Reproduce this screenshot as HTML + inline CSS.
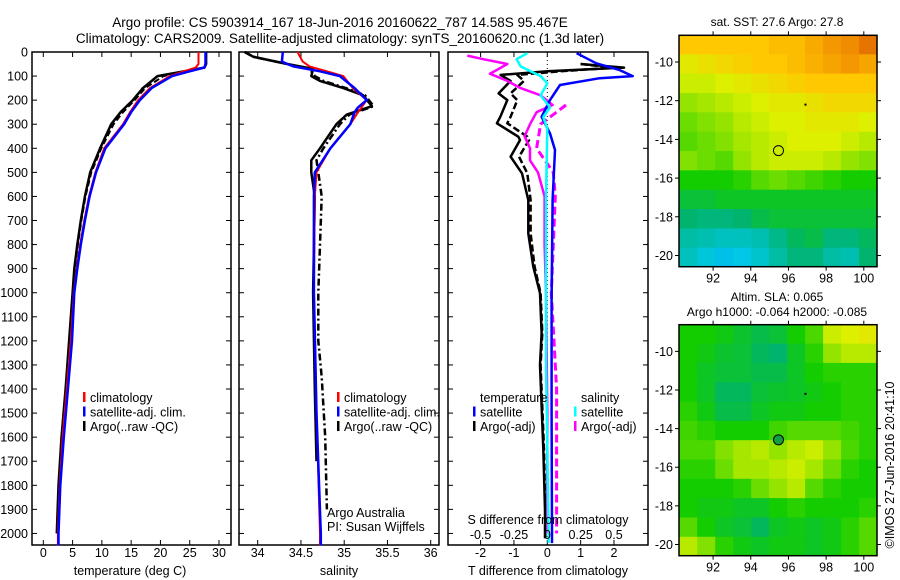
<!DOCTYPE html>
<html><head><meta charset="utf-8"><style>
body{margin:0;background:#fff;}
svg{display:block;font-family:"Liberation Sans",sans-serif;}
</style></head><body>
<svg id="fig" width="900" height="580" viewBox="0 0 900 580" xmlns="http://www.w3.org/2000/svg">
<rect width="900" height="580" fill="#fff"/>
<text x="340" y="27" font-size="13.5" text-anchor="middle">Argo profile: CS 5903914_167 18-Jun-2016 20160622_787 14.58S 95.467E</text>
<text x="340" y="43" font-size="13.5" text-anchor="middle">Climatology: CARS2009. Satellite-adjusted climatology: synTS_20160620.nc (1.3d later)</text>
<g id="g"></g>
</svg>
<script>
// ---- data ----
const depthTicks=[0,100,200,300,400,500,600,700,800,900,1000,1100,1200,1300,1400,1500,1600,1700,1800,1900,2000];
const tTicks=[0,5,10,15,20,25,30];
const sTicks=[34,34.5,35,35.5,36];
const sTickLabels=["34","34.5","35","35.5","36"];
const dTTicks=[-2,-1,0,1,2];
const dSTicks=[-0.5,-0.25,0,0.25,0.5];
const dSTickLabels=["-0.5","-0.25","0","0.25","0.5"];
const lonTicks=[92,94,96,98,100];
const latTicks=[-10,-12,-14,-16,-18,-20];

const climDepth=[0,50,65,80,100,150,200,250,300,400,500,600,700,800,900,1000,1200,1400,1600,1800,2000,2050];
const climT=[26.5,26.5,26,24,21.6,18.2,16.2,14.8,13.6,10.4,8.9,7.8,7.0,6.3,5.7,5.2,4.7,4.0,3.3,2.8,2.5,2.5];
const satT=[27.7,27.7,27.5,25,22,18.5,16.5,15,13.8,10.6,9.0,7.9,7.1,6.4,5.8,5.3,4.9,4.2,3.5,2.9,2.6,2.6];
const argoDepth=[0,50,65,80,100,150,200,250,300,400,500,600,700,800,900,1000,1200,1400,1600,1800,2000];
const argoT=[27.8,27.8,27.5,24,19.5,17,15.3,13.2,11.6,9.7,8.0,7.1,6.4,5.8,5.3,5.0,4.4,3.8,3.1,2.6,2.3];
const argoTadj=[27.8,27.8,27.5,24.5,20.5,17.4,15.6,13.6,12.0,9.9,8.2,7.2,6.5,5.9,5.4,5.0,4.5,3.9,3.2,2.7,2.4];

const sDepth=[0,40,60,80,100,150,200,230,250,300,400,500,600,1000,1500,2000,2050];
const climS=[34.46,34.52,34.6,34.8,34.99,35.1,35.26,35.2,35.16,35.07,34.84,34.68,34.66,34.65,34.68,34.72,34.72];
const satS=[34.29,34.28,34.41,34.72,34.95,35.12,35.26,35.16,35.12,35.07,34.84,34.66,34.65,34.65,34.68,34.73,34.73];
const argoSDepth=[0,20,50,70,100,120,150,180,225,260,300,400,450,500,600,1000,1400,1700];
const argoS=[33.85,33.95,34.34,34.64,34.62,34.72,34.99,35.22,35.32,35.03,34.91,34.72,34.62,34.62,34.66,34.64,34.66,34.68];
const argoSadjDepth=[0,20,50,70,100,120,150,180,225,260,300,400,450,500,600,800,1000,1200,1350,1600,1900];
const argoSadj=[33.85,33.95,34.34,34.6,34.66,34.76,35.02,35.24,35.34,35.06,34.95,34.76,34.68,34.7,34.74,34.72,34.7,34.7,34.74,34.78,34.8];

const dTsatDepth=[5,47,75,100,109,137,200,269,338,407,615,1030,1500,2000,2040];
const dTsat=[0.88,1.47,2.17,2.56,1.57,0.38,0.08,-0.17,0.08,0.23,0.16,0.13,0.13,0.14,0.14];
const dTargoDepth=[50,65,80,95,120,172,200,269,296,352,366,435,504,615,754,892,1002,1168,1300,1650,1900,2020];
const dTargo=[1.0,2.3,0.0,-1.4,-1.1,-1.46,-1.2,-1.41,-1.51,-0.87,-0.82,-1.1,-0.76,-0.57,-0.57,-0.42,-0.22,-0.17,-0.22,-0.12,-0.07,-0.07];
const dTargoAdj=[1.0,2.0,0.4,-0.9,-0.7,-1.1,-0.9,-1.1,-1.2,-0.6,-0.55,-0.85,-0.6,-0.5,-0.5,-0.38,-0.2,-0.15,-0.2,-0.1,-0.06,-0.06];
const dSsatDepth=[5,30,60,100,130,180,230,270,320,600,1300,2000,2040];
const dSsat=[-0.15,-0.23,-0.2,-0.05,0,-0.05,0.02,-0.03,0,-0.01,-0.01,0.01,0.01];
const dSargoDepth=[15,30,50,75,90,120,150,180,220,250,300,350,400,450,500,600,800,1000,1500,2000];
const dSargo=[-0.6,-0.48,-0.3,-0.38,-0.43,-0.3,-0.2,-0.05,0.04,-0.08,-0.13,-0.17,-0.13,-0.13,-0.07,-0.02,-0.02,-0.01,0,0];
const dSargoAdjDepth=[220,300,400,500,600,800,1000,1200,1400,1500,1700,2000];
const dSargoAdj=[0.14,-0.05,-0.08,0.045,0.06,0.045,0.03,0.05,0.07,0.07,0.07,0.07];

const sstGrid=[
[0.80,0.80,0.80,0.80,0.80,0.82,0.82,0.85,0.88,0.90,0.92],
[0.72,0.74,0.76,0.78,0.80,0.80,0.82,0.84,0.86,0.88,0.86],
[0.68,0.68,0.70,0.72,0.74,0.76,0.78,0.80,0.80,0.80,0.80],
[0.62,0.64,0.66,0.68,0.70,0.72,0.72,0.74,0.76,0.76,0.76],
[0.58,0.60,0.62,0.66,0.68,0.70,0.70,0.72,0.72,0.72,0.70],
[0.56,0.58,0.60,0.64,0.66,0.68,0.70,0.70,0.70,0.68,0.66],
[0.60,0.58,0.56,0.62,0.66,0.68,0.68,0.68,0.66,0.62,0.60],
[0.50,0.50,0.50,0.52,0.56,0.58,0.56,0.54,0.52,0.50,0.50],
[0.44,0.44,0.46,0.46,0.46,0.46,0.46,0.46,0.46,0.46,0.46],
[0.38,0.36,0.36,0.38,0.42,0.44,0.44,0.44,0.44,0.44,0.44],
[0.30,0.28,0.26,0.26,0.28,0.34,0.40,0.42,0.36,0.36,0.40],
[0.26,0.22,0.18,0.20,0.24,0.30,0.36,0.36,0.30,0.28,0.38]];
const slaGrid=[
[0.50,0.50,0.48,0.45,0.42,0.44,0.50,0.55,0.68,0.70,0.72],
[0.50,0.48,0.45,0.44,0.40,0.38,0.46,0.52,0.62,0.66,0.66],
[0.50,0.46,0.44,0.44,0.42,0.42,0.46,0.50,0.52,0.52,0.52],
[0.50,0.46,0.40,0.40,0.44,0.45,0.46,0.48,0.50,0.52,0.52],
[0.52,0.48,0.42,0.42,0.46,0.48,0.48,0.50,0.50,0.52,0.52],
[0.54,0.52,0.50,0.50,0.50,0.54,0.56,0.56,0.56,0.54,0.52],
[0.55,0.55,0.60,0.64,0.66,0.62,0.66,0.68,0.62,0.55,0.52],
[0.52,0.52,0.58,0.64,0.64,0.66,0.68,0.64,0.58,0.52,0.50],
[0.50,0.50,0.50,0.52,0.58,0.62,0.66,0.56,0.52,0.50,0.50],
[0.50,0.48,0.48,0.46,0.46,0.50,0.52,0.50,0.50,0.50,0.52],
[0.56,0.50,0.46,0.44,0.40,0.46,0.48,0.46,0.48,0.52,0.56],
[0.66,0.60,0.52,0.48,0.46,0.48,0.48,0.46,0.48,0.52,0.56]];
const gridLon0=90.2, gridLat0=-8.6;
const argoLon=95.47, argoLat=-14.58;

// ---- helpers ----
const NS="http://www.w3.org/2000/svg";
const G=document.getElementById('g');
function el(tag,attrs,parent){const e=document.createElementNS(NS,tag);for(const k in attrs)e.setAttribute(k,attrs[k]);(parent||G).appendChild(e);return e;}
function txt(x,y,s,opt,parent){const t=el('text',Object.assign({x:x,y:y,'font-size':12},opt||{}),parent);t.textContent=s;return t;}

const yTop=52, yBot=545, dMax=2048;
const yD=d=>yTop+d*(yBot-yTop)/dMax;
function lin(a,b,pa,pb){return v=>pa+(v-a)*(pb-pa)/(b-a);}

const panels=[
 {name:'temperature-panel',x0:32,x1:231,vx:lin(0,30,43.3,219)},
 {name:'salinity-panel',x0:239,x1:439,vx:lin(34,36,257.7,430.7)},
 {name:'difference-panel',x0:448,x1:648,vx:lin(0,2,547.3,614)}
];
const xS=lin(0,0.5,547.3,614);

function frame(p,ticks,labels,showDepth){
 const g=el('g',{});
 
 
 el('rect',{x:p.x0,y:yTop,width:p.x1-p.x0,height:yBot-yTop,fill:'none',stroke:'#000','stroke-width':1.5},g);
 depthTicks.forEach(d=>{
  const y=yD(d);
  el('line',{x1:p.x0,x2:p.x0+5,y1:y,y2:y,stroke:'#000'},g);
  el('line',{x1:p.x1-5,x2:p.x1,y1:y,y2:y,stroke:'#000'},g);
  if(showDepth){const t=txt(p.x0-4,y+4.5,String(d),{'text-anchor':'end','font-size':12.5},g);
   
   }
 });
 ticks.forEach((v,i)=>{
  const x=p.vx(v);
  el('line',{x1:x,x2:x,y1:yTop,y2:yTop+5,stroke:'#000'},g);
  el('line',{x1:x,x2:x,y1:yBot-5,y2:yBot,stroke:'#000'},g);
  const t=txt(x,557,labels[i],{'text-anchor':'middle','font-size':12.5},g);
  
  
 });
 return g;
}
function line(xs,ds,fx,color,w,dash,name,parent){
 const pts=xs.map((v,i)=>fx(v).toFixed(1)+','+yD(ds[i]).toFixed(1)).join(' ');
 const pl=el('polyline',{points:pts,fill:'none',stroke:color,'stroke-width':w,'stroke-linejoin':'round'},parent);
 if(dash)pl.setAttribute('stroke-dasharray',dash);
 
 
 return pl;
}
function legend(x,y,rows,parent){
 rows.forEach((r,i)=>{
  const yy=y+i*14.5;
  if(r.c) el('rect',{x:x,y:yy-10,width:2.5,height:10,fill:r.c},parent);
  const t=txt(x+7,yy,r.t,{'font-size':12.5},parent);
  
  
 });
}

// Panel 1
const g1=frame(panels[0],tTicks,tTicks.map(String),true);
line(argoT,argoDepth,panels[0].vx,'#000',2.5,null,'argo-temperature-line',g1);
line(argoTadj,argoDepth,panels[0].vx,'#000',2,'6,3','argo-adj-temperature-line',g1);
line(climT,climDepth,panels[0].vx,'#f00',2,null,'climatology-temperature-line',g1);
line(satT,climDepth,panels[0].vx,'#00f',2.5,null,'satellite-temperature-line',g1);
txt(130,575,'temperature (deg C)',{'text-anchor':'middle','font-size':12.5},g1);
legend(83,402,[{c:'#f00',t:'climatology'},{c:'#00f',t:'satellite-adj. clim.'},{c:'#000',t:'Argo(..raw -QC)'}],g1);

// Panel 2
const g2=frame(panels[1],sTicks,sTickLabels,false);
line(argoSadj,argoSadjDepth,panels[1].vx,'#000',2.5,'7,3,2,3','argo-adj-salinity-line',g2);
line(argoS,argoSDepth,panels[1].vx,'#000',2.5,null,'argo-salinity-line',g2);
line(climS,sDepth,panels[1].vx,'#f00',2,null,'climatology-salinity-line',g2);
line(satS,sDepth,panels[1].vx,'#00f',2.5,null,'satellite-salinity-line',g2);
txt(339,575,'salinity',{'text-anchor':'middle','font-size':12.5},g2);
legend(337,402,[{c:'#f00',t:'climatology'},{c:'#00f',t:'satellite-adj. clim.'},{c:'#000',t:'Argo(..raw -QC)'}],g2);
txt(327,517,'Argo Australia',{'font-size':12.5},g2);
txt(327,531,'PI: Susan Wijffels',{'font-size':12.5},g2);

// Panel 3
const g3=frame(panels[2],dTTicks,dTTicks.map(String),false);
el('line',{x1:547.3,x2:547.3,y1:yTop,y2:yBot,stroke:'#000','stroke-dasharray':'1,3'},g3);
line(dTargoAdj,dTargoDepth,panels[2].vx,'#000',2.5,'7,3','argo-adj-tdiff-line',g3);
line(dTargo,dTargoDepth,panels[2].vx,'#000',2.5,null,'argo-tdiff-line',g3);
line(dSargoAdj,dSargoAdjDepth,xS,'#f0f',3,'8,4','argo-adj-sdiff-line',g3);
line(dSargo,dSargoDepth,xS,'#f0f',2.5,null,'argo-sdiff-line',g3);
line(dTsat,dTsatDepth,panels[2].vx,'#00f',2.5,null,'satellite-tdiff-line',g3);
line(dSsat,dSsatDepth,xS,'#0ff',2.5,null,'satellite-sdiff-line',g3);
legend(473,402,[{t:'temperature'},{c:'#00f',t:'satellite'},{c:'#000',t:'Argo(-adj)'}],g3);
legend(574,402,[{t:'salinity'},{c:'#0ff',t:'satellite'},{c:'#f0f',t:'Argo(-adj)'}],g3);
txt(548,524,'S difference from climatology',{'text-anchor':'middle','font-size':12.5},g3);
dSTicks.forEach((v,i)=>{const t=txt(xS(v),539,dSTickLabels[i],{'text-anchor':'middle','font-size':12.5},g3);
 
 });
txt(548,575,'T difference from climatology',{'text-anchor':'middle','font-size':12.5},g3);

// colormap
const cmap=[[0,[0,110,255]],[0.2,[0,200,230]],[0.38,[0,180,110]],[0.5,[20,205,0]],[0.6,[130,225,0]],[0.7,[220,240,0]],[0.8,[255,200,0]],[0.9,[240,140,0]],[1,[190,20,0]]];
function col(v){for(let i=1;i<cmap.length;i++){if(v<=cmap[i][0]){const a=cmap[i-1],b=cmap[i],t=(v-a[0])/(b[0]-a[0]);return 'rgb('+a[1].map((c,k)=>Math.round(c+(b[1][k]-c)*t)).join(',')+')';}}return 'rgb(190,20,0)';}

function map(name,grid,yt,yb,filled){
 const x0=679,x1=877;
 const lonX=lin(90.19,100.7,x0,x1), latY=lin(-8.62,-20.58,yt,yb);
 const g=el('g',{});
 
 
 grid.forEach((row,r)=>row.forEach((v,c)=>{
  const xa=lonX(gridLon0+c*0.955), xb=lonX(gridLon0+(c+1)*0.955);
  const ya=latY(gridLat0-r), yb2=latY(gridLat0-r-1);
  const cell=el('rect',{x:xa.toFixed(1),y:ya.toFixed(1),width:(Math.min(xb,x1)-xa+0.6).toFixed(1),height:(Math.min(yb2,yb)-ya+0.6).toFixed(1),fill:col(v)},g);
  
  
 }));
 el('rect',{x:x0,y:yt,width:x1-x0,height:yb-yt,fill:'none',stroke:'#000','stroke-width':1.5},g);
 lonTicks.forEach(l=>{const x=lonX(l);
  el('line',{x1:x,x2:x,y1:yt-4,y2:yt,stroke:'#000'},g);
  el('line',{x1:x,x2:x,y1:yb,y2:yb+4,stroke:'#000'},g);
  const t=txt(x,yb+16,String(l),{'text-anchor':'middle','font-size':12.5},g);
  
  });
 latTicks.forEach(l=>{const y=latY(l);
  el('line',{x1:x0-4,x2:x0,y1:y,y2:y,stroke:'#000'},g);
  el('line',{x1:x1,x2:x1+4,y1:y,y2:y,stroke:'#000'},g);
  const t=txt(x0-6,y+4.5,String(l),{'text-anchor':'end','font-size':12.5},g);
  
  });
 const m=el('circle',{cx:lonX(argoLon),cy:latY(argoLat),r:5,fill:filled?'#10a040':'none',stroke:'#000','stroke-width':1},g);
 
 
 el('rect',{x:lonX(96.85),y:latY(-12.15),width:2,height:2,fill:'#000'},g);
 return g;
}
map('sst-map',sstGrid,35.3,266.7,false);
map('sla-map',slaGrid,324.7,555.7,true);
txt(777,26,'sat. SST: 27.6  Argo: 27.8',{'text-anchor':'middle','font-size':12});
txt(777,301,'Altim. SLA: 0.065',{'text-anchor':'middle','font-size':12});
txt(777,316,'Argo h1000: -0.064  h2000: -0.085',{'text-anchor':'middle','font-size':12});
const cr=txt(0,0,'©IMOS 27-Jun-2016 20:41:10',{'text-anchor':'middle','font-size':12.5,transform:'translate(894,465) rotate(-90)'});


</script>
</body></html>
